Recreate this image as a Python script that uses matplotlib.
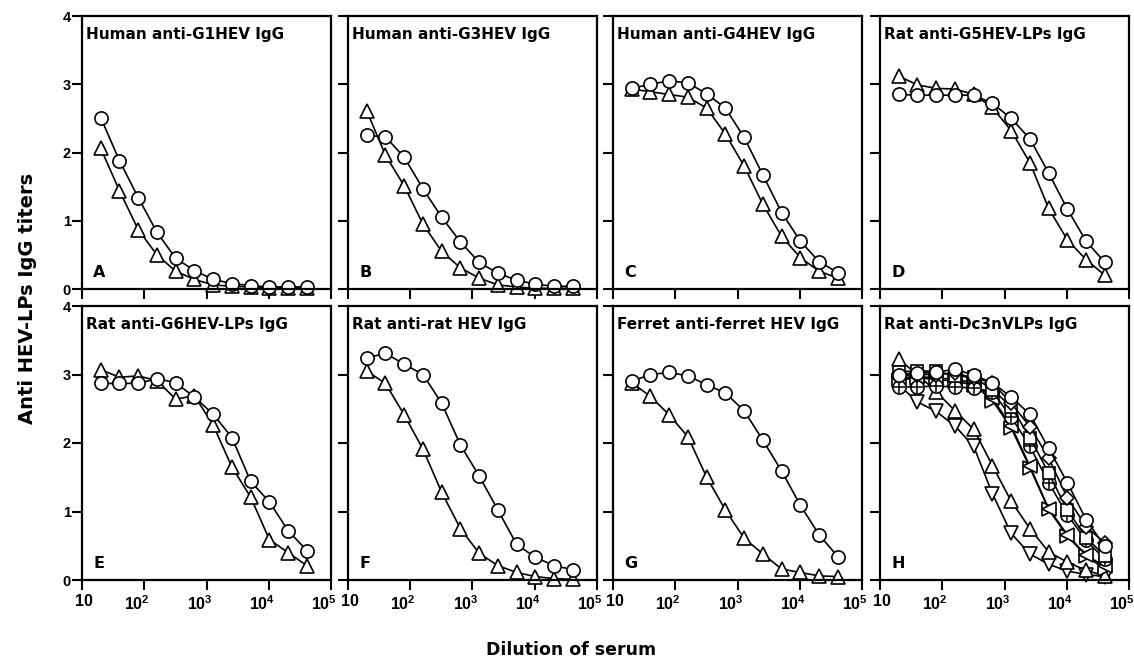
import matplotlib.pyplot as plt
import matplotlib.transforms as mtransforms
import numpy as np

plt.rcParams['font.family'] = ['Liberation Sans', 'DejaVu Sans']
plt.rcParams['font.weight'] = 'bold'
plt.rcParams['mathtext.fontset'] = 'custom'
plt.rcParams['mathtext.rm'] = 'Liberation Sans:bold'
plt.rcParams['mathtext.bf'] = 'Liberation Sans:bold'

# --- données ---
dilution = [20, 40, 80, 160, 320, 640, 1280, 2560, 5120, 10240, 20480, 40960]

titles = ["Human anti-G1HEV IgG", "Human anti-G3HEV IgG", "Human anti-G4HEV IgG",
          "Rat anti-G5HEV-LPs IgG", "Rat anti-G6HEV-LPs IgG", "Rat anti-rat HEV IgG",
          "Ferret anti-ferret HEV IgG", "Rat anti-Dc3nVLPs IgG"]
letters = ["A", "B", "C", "D", "E", "F", "G", "H"]

a_circle = [2.51, 1.88, 1.34, 0.83, 0.45, 0.27, 0.14, 0.08, 0.05, 0.03, 0.03, 0.03]
a_tri = [2.06, 1.44, 0.87, 0.50, 0.26, 0.14, 0.06, 0.04, 0.03, 0.02, 0.02, 0.02]
b_circle = [2.25, 2.23, 1.93, 1.47, 1.05, 0.69, 0.39, 0.23, 0.13, 0.07, 0.04, 0.04]
b_tri = [2.61, 1.96, 1.51, 0.95, 0.55, 0.31, 0.16, 0.06, 0.03, 0.01, 0.01, 0.01]
c_circle = [2.94, 3.00, 3.05, 3.02, 2.86, 2.65, 2.22, 1.67, 1.12, 0.70, 0.40, 0.24]
c_tri = [2.93, 2.89, 2.85, 2.81, 2.65, 2.27, 1.80, 1.24, 0.77, 0.46, 0.26, 0.16]
d_circle = [2.85, 2.84, 2.84, 2.84, 2.84, 2.72, 2.50, 2.20, 1.70, 1.17, 0.70, 0.39]
d_tri = [3.12, 2.99, 2.94, 2.93, 2.85, 2.66, 2.32, 1.85, 1.18, 0.72, 0.43, 0.20]
e_circle = [2.87, 2.87, 2.87, 2.94, 2.88, 2.67, 2.42, 2.08, 1.44, 1.14, 0.72, 0.43]
e_tri = [3.07, 2.96, 2.98, 2.91, 2.64, 2.69, 2.26, 1.65, 1.21, 0.59, 0.40, 0.21]
f_circle = [3.24, 3.31, 3.15, 3.00, 2.58, 1.97, 1.52, 1.02, 0.52, 0.33, 0.21, 0.15]
f_tri = [3.05, 2.87, 2.41, 1.91, 1.28, 0.75, 0.39, 0.21, 0.11, 0.05, 0.02, 0.01]
g_circle = [2.90, 3.00, 3.03, 2.98, 2.85, 2.73, 2.47, 2.04, 1.59, 1.09, 0.66, 0.34]
g_tri = [2.88, 2.68, 2.41, 2.09, 1.50, 1.02, 0.61, 0.38, 0.16, 0.11, 0.06, 0.05]

h_circle = [3.00, 3.02, 3.03, 3.08, 2.99, 2.88, 2.67, 2.42, 1.92, 1.42, 0.88, 0.49]
h_diamond = [2.98, 3.00, 3.00, 3.02, 2.95, 2.88, 2.58, 2.24, 1.78, 1.20, 0.78, 0.54]
h_square = [3.04, 3.05, 3.05, 2.98, 2.96, 2.78, 2.53, 2.08, 1.56, 1.02, 0.62, 0.35]
h_cplus = [2.82, 2.82, 2.83, 2.82, 2.80, 2.75, 2.38, 1.95, 1.42, 0.95, 0.58, 0.30]
h_left = [2.95, 2.97, 2.95, 2.93, 2.88, 2.65, 2.25, 1.66, 1.04, 0.66, 0.36, 0.20]
h_right = [2.92, 2.95, 2.93, 2.90, 2.85, 2.62, 2.22, 1.64, 1.03, 0.64, 0.35, 0.16]
h_up = [3.22, 3.00, 2.75, 2.47, 2.20, 1.67, 1.15, 0.75, 0.41, 0.26, 0.14, 0.06]
h_down = [2.85, 2.60, 2.46, 2.25, 1.95, 1.26, 0.68, 0.38, 0.23, 0.13, 0.08, 0.05]

two_series = [(a_circle, a_tri), (b_circle, b_tri), (c_circle, c_tri), (d_circle, d_tri),
              (e_circle, e_tri), (f_circle, f_tri), (g_circle, g_tri)]
h_series = [(h_down, 'v'), (h_up, '^'), (h_right, '>'), (h_left, '<'), (h_cplus, 'o'),
            (h_square, 's'), (h_diamond, 'D'), (h_circle, 'o')]

xticks = [10, 100, 1000, 10000, 100000]
xticklabels = ["10", r"$10^2$", r"$10^3$", r"$10^4$", r"$10^5$"]

# --- figure ---
fig = plt.figure(figsize=(11.34, 6.64), dpi=100)
W, H = 1134, 664
lefts = [82, 348, 613, 880]
pw = 249
rows = [(16, 289), (306, 580)]
wide = ['DejaVu Sans']   # police large pour les titres

def draw(ax, y, marker, ms=9.5):
    ax.plot(dilution, y, color='black', lw=1.2, marker=marker, ms=ms,
            mfc='white', mec='black', mew=1.2, clip_on=False)

for i in range(8):
    r, c = divmod(i, 4)
    top, bot = rows[r]
    ax = fig.add_axes([lefts[c] / W, 1 - bot / H, pw / W, (bot - top) / H])
    ax.set_xscale('log')
    ax.set_xlim(10, 1e5)
    ax.set_ylim(0, 4)
    ax.minorticks_off()

    if i < 7:
        circ, tri = two_series[i]
        draw(ax, tri, '^', 10)
        draw(ax, circ, 'o')
    else:
        for y, m in h_series:
            ms = 7.5 if m == 'D' else (9 if m == 's' else 9.5)
            draw(ax, y, m, ms)
            if y is h_cplus:
                ax.plot(dilution, y, ls='none', marker='+', ms=9, mec='black',
                        mew=1.1, clip_on=False)

    ax.set_xticks(xticks)
    ax.set_yticks([0, 1, 2, 3, 4])
    ax.tick_params(direction='out', length=7, width=1.5, pad=2)
    ax.tick_params(axis='x', labelsize=11.5, pad=3)
    ax.tick_params(axis='y', labelsize=10.5, pad=1)
    if r == 1:
        ax.set_xticklabels(xticklabels)
        # décalage des étiquettes comme sur l'original
        for k, tick in enumerate(ax.xaxis.get_major_ticks()):
            dx = 2 if k == 0 else -7
            off = mtransforms.ScaledTranslation(dx / 100, 0, fig.dpi_scale_trans)
            tick.label1.set_transform(tick.label1.get_transform() + off)
    else:
        ax.set_xticklabels([])
    if c == 0:
        ax.set_yticklabels(["0", "1", "2", "3", "4"])
    else:
        ax.set_yticklabels([])
    for s in ax.spines.values():
        s.set_linewidth(1.6)

    ax.text(0.016, 0.934, titles[i], transform=ax.transAxes, fontsize=11,
            family=wide, fontweight='bold', va='center', ha='left')
    ax.text(0.045, 0.062, letters[i], transform=ax.transAxes, fontsize=11.5,
            family=wide, fontweight='bold', va='center', ha='left')

fig.text(28 / W, 1 - 298 / H, "Anti HEV-LPs IgG titers", rotation=90, fontsize=14,
         family=wide, fontweight='bold', ha='center', va='center')
fig.text(571 / W, 1 - 650 / H, "Dilution of serum", fontsize=12.5,
         family=wide, fontweight='bold', ha='center', va='center')

fig.savefig("out.png", dpi=100)
